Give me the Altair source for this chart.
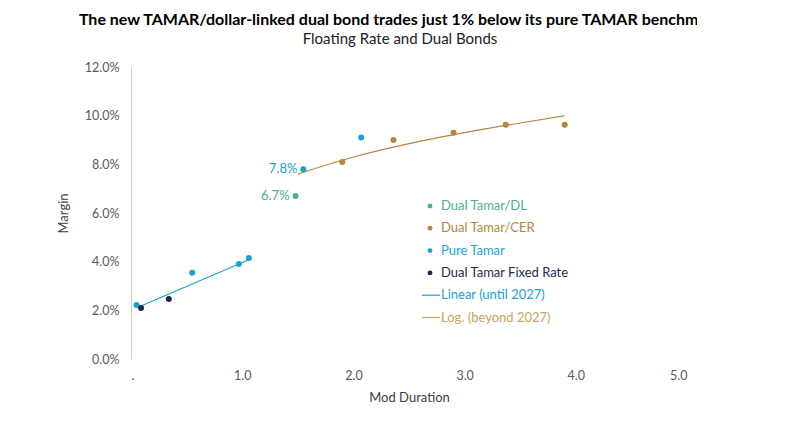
import altair as alt
import pandas as pd

pure_x = [0.05, 0.55, 0.97, 1.06, 1.55, 2.07]
pure_y = [2.22, 3.54, 3.90, 4.15, 7.80, 9.10]
fixed_x = [0.09, 0.34]
fixed_y = [2.10, 2.47]
dl_x = [1.48]
dl_y = [6.70]
cer_x = [1.90, 2.36, 2.90, 3.37, 3.90]
cer_y = [8.10, 9.00, 9.30, 9.63, 9.63]
lin_x = [0.10, 1.07]
lin_y = [2.20, 4.10]
log_x = [1.50, 2.00, 2.50, 3.00, 3.50, 3.90]
log_y = [7.60, 8.30, 8.85, 9.30, 9.70, 10.00]

C_PURE, C_FIXED, C_DL, C_CER = "#1b9fd6", "#1b2a4a", "#4caf8a", "#b08a3a"
FONT = "Lato"

def pts(xs, ys):
    return pd.DataFrame({"x": xs, "y": [v / 100 for v in ys]})

xs = alt.Scale(domain=[0, 5])
ys = alt.Scale(domain=[0, 0.12])
X = alt.X("x:Q", scale=xs, title="Mod Duration",
          axis=alt.Axis(values=[0, 1, 2, 3, 4, 5], labelExpr="datum.value == 0 ? '.' : format(datum.value, '.1f')",
                        grid=False, domain=False, ticks=False, labelPadding=10, titlePadding=10))
Y = alt.Y("y:Q", scale=ys, title="Margin",
          axis=alt.Axis(values=[0, 0.02, 0.04, 0.06, 0.08, 0.10, 0.12], format=".1%", grid=False,
                        domain=True, domainColor="#d0d0d0", ticks=False, labelPadding=12, titlePadding=14))

def scatter(xs_, ys_, color):
    return alt.Chart(pts(xs_, ys_)).mark_circle(size=36, color=color, opacity=1).encode(x=X, y=Y)

def line(xs_, ys_, color):
    return alt.Chart(pts(xs_, ys_)).mark_line(color=color, strokeWidth=1.2, interpolate="monotone").encode(x=X, y=Y)

labels = pd.DataFrame({"x": [1.55, 1.48], "y": [0.078, 0.067], "t": ["7.8%", "6.7%"], "c": [C_PURE, C_DL]})
lab = alt.Chart(labels).mark_text(align="right", dx=-6, fontSize=13, font=FONT).encode(
    x=X, y=Y, text="t:N", color=alt.Color("c:N", scale=None))

leg_names = ["Dual Tamar/DL", "Dual Tamar/CER", "Pure Tamar", "Dual Tamar Fixed Rate",
             "Linear (until 2027)", "Log. (beyond 2027)"]
leg_colors = [C_DL, C_CER, C_PURE, C_FIXED, C_PURE, "#c9a25a"]
leg = pd.DataFrame({"t": leg_names, "c": leg_colors, "i": range(6)})
leg_text = alt.Chart(leg).transform_calculate(py="datum.i * 22.3 + 139").mark_text(
    align="left", fontSize=13, font=FONT).encode(
    x=alt.value(310), y=alt.Y("py:Q", scale=None), text="t:N", color=alt.Color("c:N", scale=None))
leg_dot = alt.Chart(leg).transform_filter("datum.i < 4").transform_calculate(py="datum.i * 22.3 + 139").mark_circle(
    size=24, opacity=1).encode(x=alt.value(299), y=alt.Y("py:Q", scale=None), color=alt.Color("c:N", scale=None))
leg_line = alt.Chart(leg).transform_filter("datum.i >= 4").transform_calculate(py="datum.i * 22.3 + 139").mark_rule(
    strokeWidth=1.2).encode(x=alt.value(291), x2=alt.value(309), y=alt.Y("py:Q", scale=None),
                            color=alt.Color("c:N", scale=None))

chart = alt.layer(
    line(lin_x, lin_y, C_PURE), line(log_x, log_y, C_CER),
    scatter(pure_x, pure_y, C_PURE), scatter(fixed_x, fixed_y, C_FIXED),
    scatter(dl_x, dl_y, C_DL), scatter(cer_x, cer_y, C_CER),
    lab, leg_text, leg_dot, leg_line,
).properties(
    width=556, height=292,
    autosize=alt.AutoSizeParams(type="none"),
    padding={"left": 123, "top": 59, "right": 10, "bottom": 50},
    title=alt.Title("The new TAMAR/dollar-linked dual bond trades just 1% below its pure TAMAR benchmark",
                    subtitle="Floating Rate and Dual Bonds", anchor="middle", dx=-9, offset=14, limit=800,
                    fontSize=16, fontWeight="bold", font=FONT, color="#000000",
                    subtitleFontSize=15, subtitleFont=FONT, subtitleColor="#222222", subtitlePadding=4),
).configure_view(stroke=None).configure_axis(
    labelFont=FONT, titleFont=FONT, labelFontSize=12.5, titleFontSize=13,
    labelColor="#595959", titleColor="#404040", titleFontWeight="normal")

chart.save("out.html", embed_options={"renderer": "svg", "actions": False})
